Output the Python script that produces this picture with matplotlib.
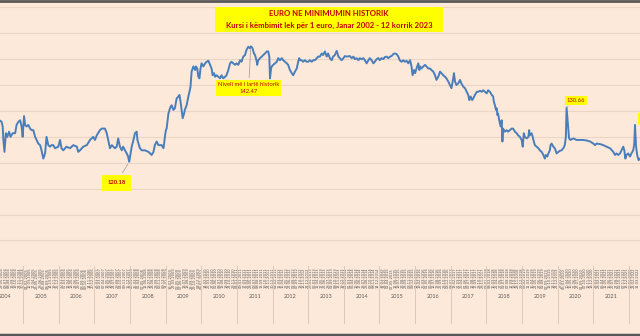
import matplotlib
matplotlib.use('Agg')
import matplotlib.pyplot as plt
import matplotlib.transforms as mtransforms
from matplotlib.lines import Line2D
import pandas as pd

# kursi lek/euro (lexuar nga grafiku), data si vit dhjetor
years = [
    2004.36, 2004.40, 2004.43, 2004.45, 2004.48, 2004.52, 2004.56, 2004.61, 2004.65, 2004.71,
    2004.78, 2004.82, 2004.87, 2004.92, 2004.96, 2004.99, 2005.03, 2005.06, 2005.10, 2005.15,
    2005.20, 2005.24, 2005.29, 2005.34, 2005.38, 2005.43, 2005.48, 2005.52, 2005.57, 2005.62,
    2005.66, 2005.71, 2005.76, 2005.80, 2005.85, 2005.90, 2005.99, 2006.04, 2006.08, 2006.13,
    2006.22, 2006.32, 2006.41, 2006.51, 2006.55, 2006.60, 2006.69, 2006.79, 2006.88, 2006.97,
    2007.02, 2007.07, 2007.16, 2007.21, 2007.30, 2007.35, 2007.39, 2007.44, 2007.49, 2007.58,
    2007.63, 2007.67, 2007.72, 2007.77, 2007.81, 2007.86, 2007.91, 2007.95, 2007.98, 2008.02,
    2008.05, 2008.10, 2008.14, 2008.19, 2008.21, 2008.24, 2008.28, 2008.33, 2008.42, 2008.52,
    2008.61, 2008.66, 2008.70, 2008.75, 2008.80, 2008.84, 2008.89, 2008.94, 2008.96, 2008.98,
    2009.01, 2009.03, 2009.08, 2009.11, 2009.14, 2009.17, 2009.22, 2009.26, 2009.31, 2009.36,
    2009.39, 2009.42, 2009.45, 2009.48, 2009.52, 2009.54, 2009.59, 2009.64, 2009.67, 2009.70,
    2009.73, 2009.76, 2009.78, 2009.83, 2009.85, 2009.89, 2009.92, 2009.95, 2009.98, 2010.01,
    2010.06, 2010.11, 2010.15, 2010.20, 2010.25, 2010.29, 2010.32, 2010.36, 2010.39, 2010.43,
    2010.48, 2010.53, 2010.57, 2010.62, 2010.67, 2010.71, 2010.76, 2010.81, 2010.85, 2010.90,
    2010.95, 2010.99, 2011.04, 2011.09, 2011.13, 2011.18, 2011.23, 2011.27, 2011.32, 2011.37,
    2011.39, 2011.41, 2011.44, 2011.48, 2011.51, 2011.56, 2011.57, 2011.60, 2011.65, 2011.70,
    2011.74, 2011.79, 2011.84, 2011.88, 2011.91, 2011.93, 2011.96, 2011.98, 2012.02, 2012.07,
    2012.12, 2012.16, 2012.21, 2012.26, 2012.30, 2012.35, 2012.40, 2012.44, 2012.49, 2012.54,
    2012.58, 2012.63, 2012.68, 2012.72, 2012.75, 2012.77, 2012.82, 2012.86, 2012.91, 2012.96,
    2013.00, 2013.05, 2013.10, 2013.14, 2013.19, 2013.24, 2013.28, 2013.33, 2013.38, 2013.42,
    2013.47, 2013.52, 2013.56, 2013.61, 2013.66, 2013.70, 2013.75, 2013.80, 2013.85, 2013.89,
    2013.94, 2013.99, 2014.03, 2014.08, 2014.17, 2014.22, 2014.27, 2014.31, 2014.36, 2014.41,
    2014.45, 2014.50, 2014.55, 2014.59, 2014.64, 2014.69, 2014.73, 2014.78, 2014.83, 2014.87,
    2014.92, 2014.97, 2015.01, 2015.06, 2015.11, 2015.15, 2015.20, 2015.25, 2015.30, 2015.34,
    2015.39, 2015.43, 2015.48, 2015.53, 2015.57, 2015.62, 2015.67, 2015.71, 2015.76, 2015.81,
    2015.86, 2015.90, 2015.93, 2015.97, 2016.00, 2016.04, 2016.09, 2016.12, 2016.14, 2016.18,
    2016.23, 2016.28, 2016.32, 2016.37, 2016.42, 2016.46, 2016.51, 2016.56, 2016.60, 2016.65,
    2016.70, 2016.74, 2016.79, 2016.84, 2016.88, 2016.93, 2016.98, 2017.02, 2017.07, 2017.09,
    2017.12, 2017.16, 2017.21, 2017.26, 2017.30, 2017.35, 2017.40, 2017.45, 2017.49, 2017.52,
    2017.56, 2017.60, 2017.63, 2017.68, 2017.73, 2017.77, 2017.82, 2017.87, 2017.91, 2017.96,
    2018.01, 2018.05, 2018.10, 2018.15, 2018.19, 2018.21, 2018.24, 2018.27, 2018.29, 2018.31,
    2018.33, 2018.36, 2018.38, 2018.40, 2018.43, 2018.45, 2018.47, 2018.49, 2018.52, 2018.57,
    2018.61, 2018.66, 2018.71, 2018.75, 2018.80, 2018.85, 2018.89, 2018.94, 2018.99, 2019.02,
    2019.05, 2019.08, 2019.13, 2019.18, 2019.20, 2019.22, 2019.27, 2019.30, 2019.32, 2019.36,
    2019.41, 2019.46, 2019.50, 2019.55, 2019.60, 2019.64, 2019.67, 2019.71, 2019.74, 2019.78,
    2019.80, 2019.83, 2019.88, 2019.92, 2019.97, 2020.02, 2020.06, 2020.11, 2020.16, 2020.20,
    2020.23, 2020.25, 2020.27, 2020.30, 2020.32, 2020.36, 2020.44, 2020.53, 2020.62, 2020.72,
    2020.81, 2020.91, 2021.00, 2021.05, 2021.09, 2021.19, 2021.28, 2021.37, 2021.47, 2021.56,
    2021.61, 2021.65, 2021.70, 2021.75, 2021.79, 2021.84, 2021.87, 2021.90, 2021.93, 2021.98,
    2022.03, 2022.07, 2022.12, 2022.15, 2022.17, 2022.20, 2022.23, 2022.27, 2022.31,
]
rates = [
    128.1, 127.9, 127.0, 124.4, 122.1, 125.7, 125.0, 126.0, 125.0, 125.7,
    125.7, 127.3, 127.9, 128.2, 127.0, 125.0, 129.0, 127.3, 127.0, 127.3,
    126.6, 126.3, 126.3, 125.0, 124.4, 123.7, 123.4, 122.4, 120.8, 121.8,
    125.0, 123.4, 123.1, 123.4, 123.4, 122.8, 123.1, 124.4, 122.8, 122.4,
    123.1, 122.8, 123.4, 123.1, 122.1, 122.4, 123.1, 123.4, 124.4, 125.0,
    124.4, 125.3, 126.3, 126.6, 126.6, 125.7, 124.4, 122.8, 123.4, 122.8,
    123.1, 124.7, 123.1, 122.4, 123.1, 122.4, 121.8, 121.2, 120.18, 121.8,
    123.1, 124.4, 125.7, 126.0, 124.4, 123.7, 122.8, 122.4, 122.4, 122.1,
    121.5, 122.1, 123.4, 124.1, 123.4, 123.4, 123.4, 122.8, 123.7, 125.0,
    126.3, 126.6, 129.5, 130.2, 130.8, 131.1, 130.2, 130.5, 132.4, 132.8,
    133.1, 131.8, 130.2, 128.6, 129.5, 130.2, 131.1, 132.8, 133.7, 134.7,
    137.6, 138.2, 138.6, 137.9, 138.6, 138.2, 136.6, 136.3, 138.2, 139.2,
    138.6, 139.2, 139.5, 139.7, 138.9, 138.2, 136.9, 137.3, 136.6, 136.9,
    136.6, 136.3, 136.9, 136.3, 136.6, 136.9, 137.9, 139.2, 139.5, 139.2,
    138.9, 139.2, 138.9, 139.8, 139.5, 140.5, 140.8, 141.8, 142.4, 142.1,
    142.47, 142.4, 142.1, 141.1, 140.8, 139.5, 138.9, 139.8, 140.2, 140.5,
    140.8, 141.1, 141.5, 141.5, 140.5, 136.3, 138.2, 138.6, 138.9, 139.2,
    139.5, 140.2, 139.8, 140.2, 139.8, 139.5, 139.2, 138.9, 137.9, 137.3,
    136.9, 137.6, 138.2, 139.5, 140.2, 139.8, 139.8, 139.5, 139.8, 139.5,
    139.5, 139.8, 139.5, 139.8, 139.8, 140.2, 140.5, 140.5, 141.1, 140.8,
    141.5, 140.5, 141.1, 140.2, 139.8, 140.5, 140.8, 141.6, 140.5, 140.2,
    139.8, 140.2, 140.6, 140.5, 140.6, 140.2, 140.5, 140.0, 140.2, 139.8,
    140.2, 140.0, 140.2, 139.8, 139.2, 139.8, 140.2, 139.8, 139.2, 139.5,
    140.0, 140.2, 139.8, 140.2, 140.0, 140.4, 140.5, 140.2, 140.5, 140.6,
    141.0, 141.1, 141.0, 140.5, 139.8, 139.5, 139.8, 139.5, 139.7, 139.2,
    139.8, 138.6, 136.9, 137.9, 137.3, 138.2, 139.2, 137.9, 138.6, 138.2,
    138.6, 138.9, 138.6, 138.2, 138.2, 137.9, 137.6, 136.9, 136.0, 136.6,
    137.6, 137.3, 136.9, 136.6, 136.3, 135.7, 135.0, 134.4, 136.3, 137.3,
    135.7, 135.0, 135.3, 136.0, 135.3, 134.7, 134.4, 133.7, 133.1, 132.1,
    132.8, 132.1, 132.4, 133.1, 133.7, 133.7, 133.9, 133.7, 134.0, 133.7,
    133.4, 134.0, 133.7, 133.1, 132.8, 131.8, 131.1, 130.2, 130.5, 129.2,
    129.5, 128.2, 127.6, 127.0, 128.2, 124.1, 126.6, 126.3, 126.0, 126.3,
    126.0, 126.3, 126.6, 126.6, 126.0, 125.7, 125.3, 125.0, 124.4, 123.1,
    125.7, 125.0, 124.7, 125.0, 126.3, 125.3, 125.7, 125.0, 124.4, 123.4,
    123.1, 122.8, 122.4, 122.1, 121.5, 120.8, 121.5, 121.2, 121.8, 122.4,
    123.4, 123.7, 123.1, 122.8, 121.8, 122.1, 122.3, 122.4, 122.8, 123.4,
    125.0, 130.66, 128.9, 126.3, 124.7, 124.4, 124.7, 124.4, 124.4, 124.4,
    124.3, 124.1, 123.7, 123.4, 123.7, 123.6, 123.4, 123.1, 122.8, 122.1,
    121.5, 121.8, 121.5, 121.8, 122.4, 123.1, 122.4, 120.8, 121.5, 121.8,
    121.2, 121.8, 122.4, 123.7, 127.3, 123.1, 121.5, 120.5, 120.8,
]

year_labels = [str(y) for y in range(2004, 2022)]
title_lines = ['EURO NE MINIMUMIN HISTORIK',
               'Kursi i këmbimit lek për 1 euro, Janar 2002 - 12 korrik 2023']

BG = '#FCE9DA'
GRID = '#EBD6C6'
RED = '#C00000'

fig = plt.figure(figsize=(6.4, 3.36), dpi=100, facecolor=BG)
ax = fig.add_axes([0, 1 - 266.3 / 336, 1, 258.9 / 336])
ax.set_facecolor(BG)
ax.set_xlim(2004.355, 2022.31)
ax.set_ylim(100, 150)
for s in ax.spines.values():
    s.set_visible(False)

# vijat horizontale
ax.set_yticks(range(100, 151, 5))
ax.yaxis.grid(True, color=GRID, lw=0.8)
ax.set_axisbelow(True)
ax.tick_params(axis='y', left=False, labelleft=False)

ax.plot(years, rates, color='#4A7EBB', lw=1.4, solid_joinstyle='round')

# etiketat e datave (shume te vogla, vertikale)
tick_dates = pd.date_range('2004-05-28', '2022-03-31', freq='36D')
tick_pos = [d.year + (d.dayofyear - 1) / 365.25 for d in tick_dates]
ax.set_xticks(tick_pos)
ax.set_xticklabels([d.strftime('%d.%m.%Y') for d in tick_dates],
                   rotation=90, fontsize=2.6, color='#595959')
ax.tick_params(axis='x', length=0, pad=1)

# vitet dhe ndarjet
trans = mtransforms.blended_transform_factory(ax.transData, ax.transAxes)
for lab in year_labels:
    y0 = int(lab)
    ax.text(y0 + 0.5, -0.118, lab, transform=trans, ha='center', va='center',
            fontsize=4, color='#595959', family='Lato', clip_on=False)
for y0 in range(2005, 2023):
    ax.plot([y0, y0], [0, -0.22], transform=trans, color='#DDC9BA', lw=0.7,
            clip_on=False)

# shenimet
box = dict(boxstyle='square,pad=0.35', fc='#FFFF00', ec='none')
leader = dict(arrowstyle='-', color='#A6A6A6', lw=0.6)
ax.annotate('Niveli më i lartë historik\n142.47', xy=(2011.39, 142.47),
            xytext=(2011.33, 134.4), ha='center', va='center', fontsize=4.2,
            color=RED, family='Lato', bbox=box, linespacing=1.4,
            arrowprops=leader)
ax.annotate('120.18', xy=(2007.98, 120.18), xytext=(2007.62, 116.1),
            ha='center', va='center', fontsize=4.2, color=RED, family='Lato',
            fontweight='bold', bbox=dict(boxstyle='square,pad=0.9', fc='#FFFF00', ec='none'),
            arrowprops=leader)
ax.annotate('130.66', xy=(2020.25, 130.66), xytext=(2020.51, 132.1),
            ha='center', va='center', fontsize=4.2, color=RED, family='Lato',
            bbox=box, arrowprops=leader)
# kutia e fundit del jashte kornizes, duket vetem buza e saj
ax.add_patch(plt.Rectangle((2022.24, 127.2), 0.3, 2.4, fc='#FFFF00', ec='none',
                           clip_on=True))

# titulli ne kuti te verdhe
fig.patches.append(plt.Rectangle((215 / 640, 1 - 32 / 336), 228 / 640, 25 / 336,
                                 transform=fig.transFigure, fc='#FFFF00', ec='none'))
fig.text(329 / 640, 1 - 14 / 336, title_lines[0], ha='center', va='center',
         fontsize=5.6, color=RED, family='Lato', fontweight='bold')
fig.text(329 / 640, 1 - 25 / 336, title_lines[1], ha='center', va='center',
         fontsize=5.6, color=RED, family='Lato', fontweight='bold')

# vijat e kornizes lart e poshte
fig.add_artist(Line2D([0, 1], [0.996, 0.996], transform=fig.transFigure,
                      color='#595959', lw=2))
fig.add_artist(Line2D([0, 1], [0.004, 0.004], transform=fig.transFigure,
                      color='#595959', lw=2.5))

fig.savefig('out.png', dpi=100, facecolor=BG)
